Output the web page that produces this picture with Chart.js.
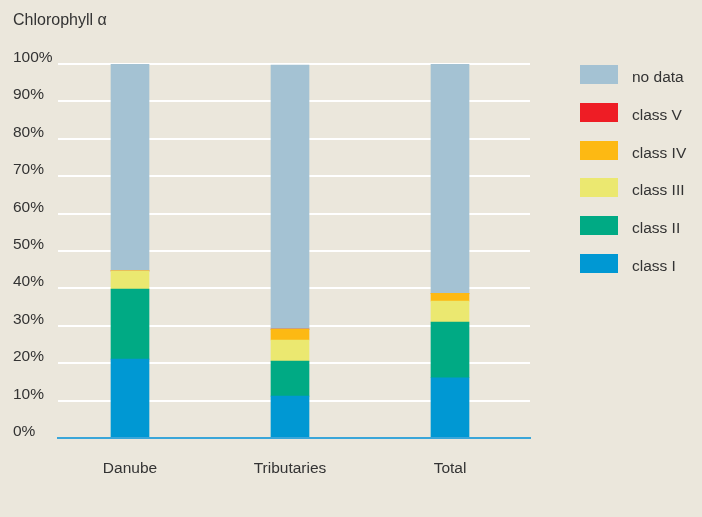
<!DOCTYPE html>
<html><head><meta charset="utf-8">
<script src="https://cdn.jsdelivr.net/npm/chart.js@4/dist/chart.umd.min.js"></script>
<style>
html,body{margin:0;padding:0;background:#ebe7dc;}
#wrap{position:relative;width:702px;height:517px;background:#ebe7dc;}
canvas{position:absolute;left:0;top:0;}
#legend{position:absolute;left:580px;top:65px;font-family:'Liberation Sans Narrow','Liberation Sans',Arial,sans-serif;font-size:15.5px;color:#333;}
.item{position:absolute;left:0;height:19px;white-space:nowrap;}
.box{position:absolute;left:0;top:0;width:38px;height:19px;}
.lbl{position:absolute;left:52px;top:1px;line-height:22px;}
</style></head>
<body><div id="wrap"><canvas id="c" width="702" height="517"></canvas><div id="legend"></div></div>
<script>
const categories = ['Danube', 'Tributaries', 'Total'];
const seriesNames = ['class I', 'class II', 'class III', 'class IV', 'class V', 'no data'];
const classI   = [21.1, 11.2, 16.1];
const classII  = [18.7,  9.4, 14.9];
const classIII = [ 4.9,  5.6,  5.6];
const classIV  = [ 0.0,  2.9,  2.1];
const classV   = [ 0.0,  0.0,  0.0];
const noData   = [55.3, 70.6, 61.3];
const yTickValues = [0, 10, 20, 30, 40, 50, 60, 70, 80, 90, 100];
const titleText = 'Chlorophyll α';

const seriesValues = [classI, classII, classIII, classIV, classV, noData];
const seriesColors = ['#0098d3', '#00aa84', '#ebe870', '#fdb913', '#ee1d25', '#a4c2d3'];
const FONT = "'Liberation Sans Narrow','Liberation Sans',Arial,sans-serif";
const FS = 15.5;
const TXT = '#333333';

const datasets = seriesValues.map((arr, k) => ({
  label: seriesNames[k],
  data: arr.map((v, i) => ({x: i, y: v})),
  backgroundColor: seriesColors[k],
  borderWidth: 0,
  barThickness: 38
}));

const chart = new Chart(document.getElementById('c'), {
  type: 'bar',
  data: {datasets},
  options: {
    responsive: false,
    animation: false,
    layout: {padding: {left: 13, right: 172, top: 0, bottom: 0}},
    plugins: {
      legend: {display: false},
      tooltip: {enabled: false},
      title: {
        display: true, text: titleText, align: 'start', color: TXT,
        font: {family: FONT, size: 16, weight: 'normal', lineHeight: 1.2},
        padding: {top: 11.4, bottom: 33.4}
      }
    },
    scales: {
      x: {
        type: 'linear', stacked: true, offset: false, min: -0.45, max: 2.5,
        afterBuildTicks: s => { s.ticks = categories.map((c, i) => ({value: i})); },
        afterFit: s => { s.height = 79; },
        ticks: {callback: v => categories[v], color: TXT, font: {family: FONT, size: FS}, padding: 21, maxRotation: 0, autoSkip: false},
        grid: {display: false, drawTicks: false},
        border: {color: '#3aa6d9', width: 2, z: 1}
      },
      y: {
        stacked: true, min: 0, max: 100,
        afterBuildTicks: s => { s.ticks = yTickValues.map(v => ({value: v})); },
        afterFit: s => { s.width = 45; },
        ticks: {callback: v => [v + '%', ''], crossAlign: 'far', color: TXT, font: {family: FONT, size: FS, lineHeight: 0.8}},
        grid: {color: ctx => (ctx.tick && ctx.tick.value === 0) ? 'rgba(0,0,0,0)' : '#ffffff', lineWidth: 2, drawTicks: false},
        border: {display: false}
      }
    }
  }
});

// HTML legend built from the chart's datasets (reverse order, like the reference)
const legendEl = document.getElementById('legend');
const items = chart.data.datasets.map(d => ({text: d.label, color: d.backgroundColor})).reverse();
items.forEach((it, j) => {
  const div = document.createElement('div');
  div.className = 'item';
  div.style.top = (j * 37.8) + 'px';
  const b = document.createElement('div'); b.className = 'box'; b.style.background = it.color;
  const l = document.createElement('div'); l.className = 'lbl'; l.textContent = it.text;
  div.appendChild(b); div.appendChild(l);
  legendEl.appendChild(div);
});
</script>
</body></html>
